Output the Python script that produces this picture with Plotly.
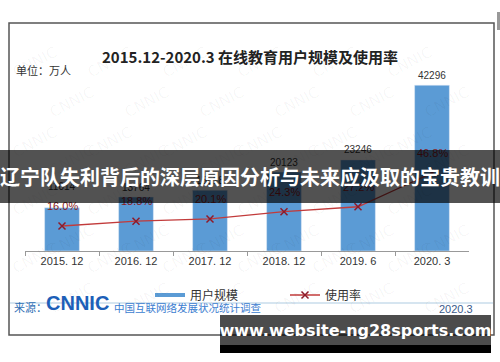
import plotly.graph_objects as go

categories = ["2015. 12", "2016. 12", "2017. 12", "2018. 12", "2019. 6", "2020. 3"]
users = [11014, 13764, 15518, 20123, 23246, 42296]
rates = [16.0, 18.8, 20.1, 24.3, 27.2, 46.8]

W, H = 500, 362
def px(x): return x / W
def py(y): return 1 - y / H

CJK = "Noto Sans CJK SC"
BAR = "#5B9BD5"
LINE = "#C23B3B"
MARK = "#8E1B2A"

# axis geometry (pixels)
BASE, TOP = 251, 55
YMAX = 50000
R0, R1 = 1.47, 115.4
def ypix_users(v): return BASE - v / YMAX * (BASE - TOP)
def ypix_rate(r): return BASE - (r - R0) / (R1 - R0) * (BASE - TOP)

fig = go.Figure()
fig.add_trace(go.Bar(
    x=categories, y=users, marker_color=BAR, width=0.47,
    showlegend=False, name="用户规模"))
# legend proxy for bars
fig.add_trace(go.Scatter(x=[None], y=[None], mode="lines",
                         line=dict(color=BAR, width=4), name="用户规模"))
fig.add_trace(go.Scatter(
    x=categories, y=rates, yaxis="y2", mode="lines+markers",
    line=dict(color=LINE, width=1.3),
    marker=dict(symbol="x-thin", size=7, line=dict(color=MARK, width=1.5)),
    name="使用率", cliponaxis=False))

# watermarks
for row in range(8):
    for col in range(7):
        x = 35 + col * 75 + (row % 2) * 37
        y = 40 + row * 40
        if x > 465:
            continue
        fig.add_annotation(x=px(x), y=py(y), xref="paper", yref="paper", text="CNNIC",
                           showarrow=False, textangle=-28, xanchor="center",
                           font=dict(size=15, color="rgba(0,0,0,0.04)", family="DejaVu Sans"))

# value labels
for c, v, r in zip(categories, users, rates):
    rate_lbl = ypix_rate(r) - 20
    bar_lbl = ypix_users(v) - 10
    shift = 10
    if abs(bar_lbl - rate_lbl) < 14:
        shift = ypix_users(v) - (rate_lbl - 20)
    fig.add_annotation(x=c, y=v, yref="y", text=str(v), showarrow=False, yshift=shift,
                       font=dict(size=10, color="#333", family="Liberation Sans"))
    fig.add_annotation(x=c, y=r, yref="y2", text=f"{r:.1f}%", showarrow=False,
                       yshift=20, font=dict(size=11, color="#8B1A1A", family="Liberation Sans"))

fig.add_annotation(x=px(250), y=py(44), xref="paper", yref="paper", xanchor="center",
                   text="<b>2015.12-2020.3 在线教育用户规模及使用率</b>", showarrow=False,
                   font=dict(size=15, color="#222", family=CJK))
fig.add_annotation(x=px(14), y=py(60), xref="paper", yref="paper", xanchor="left",
                   text="单位：万人", showarrow=False,
                   font=dict(size=11, color="#333", family=CJK))

# source row
fig.add_annotation(x=px(12), y=py(317), xref="paper", yref="paper", xanchor="left",
                   text="来源：", showarrow=False, font=dict(size=11, color="#2F6FB5", family=CJK))
fig.add_annotation(x=px(44), y=py(316), xref="paper", yref="paper", xanchor="left",
                   text="<b>CNNIC</b>", showarrow=False,
                   font=dict(size=20, color="#1D5FB8", family="Liberation Sans"))
fig.add_annotation(x=px(112), y=py(317), xref="paper", yref="paper", xanchor="left",
                   text="中国互联网络发展状况统计调查", showarrow=False,
                   font=dict(size=10.5, color="#3B7DD0", family=CJK))
fig.add_annotation(x=px(475), y=py(317), xref="paper", yref="paper", xanchor="right",
                   text="2020.3", showarrow=False,
                   font=dict(size=11, color="#3A5A8A", family="Liberation Sans"))

# overlay banners (annotations so they sit above other texts)
fig.add_annotation(x=0, y=py(150), xref="paper", yref="paper", xanchor="left", yanchor="top",
                   width=500, height=53, borderpad=0, borderwidth=0, valign="middle",
                   bgcolor="rgba(0,0,0,0.68)",
                   text="<b>辽宁队失利背后的深层原因分析与未来应汲取的宝贵教训</b>", showarrow=False,
                   font=dict(size=20, color="white", family=CJK))
fig.add_annotation(x=px(220), y=py(315), xref="paper", yref="paper", xanchor="left", yanchor="top",
                   width=271, height=30, borderpad=0, borderwidth=0, valign="middle",
                   bgcolor="rgba(0,0,0,0.7)",
                   text="<b>www.website-ng28sports.com</b>", showarrow=False,
                   font=dict(size=16, color="white", family="DejaVu Sans"))
fig.add_annotation(x=px(220), y=py(345), xref="paper", yref="paper", xanchor="left", yanchor="top",
                   width=271, height=8, borderpad=0, borderwidth=0,
                   bgcolor="#000", text=" ", showarrow=False, font=dict(size=4))

shapes = [
    dict(type="rect", xref="paper", yref="paper", x0=px(9), x1=px(494), y0=py(23), y1=py(335),
         line=dict(color="#555", width=1.5), layer="below"),
    dict(type="line", xref="paper", yref="paper", x0=px(10), x1=px(493), y0=py(303), y1=py(303),
         line=dict(color="#C9DCEB", width=1.5), layer="below"),
    dict(type="rect", xref="paper", yref="paper", x0=px(497), x1=px(500), y0=py(12), y1=py(30),
         line=dict(width=0), fillcolor="#999"),
]

fig.update_layout(
    width=W, height=H, margin=dict(l=0, r=0, t=0, b=0),
    paper_bgcolor="white", plot_bgcolor="rgba(0,0,0,0)",
    shapes=shapes,
    xaxis=dict(domain=[px(25), px(469)], type="category", showline=True, linecolor="#999",
               linewidth=1, ticks="outside", tickson="boundaries", ticklen=4, tickcolor="#999",
               tickfont=dict(size=11, color="#333", family="Liberation Sans"), showgrid=False),
    yaxis=dict(domain=[py(BASE), py(TOP)], range=[0, YMAX], visible=False, showgrid=False),
    yaxis2=dict(domain=[py(BASE), py(TOP)], range=[R0, R1], overlaying="y", visible=False,
                showgrid=False),
    legend=dict(orientation="h", x=px(150), y=py(295), xanchor="left", yanchor="middle",
                font=dict(size=12, color="#333", family=CJK), entrywidth=90,
                bgcolor="rgba(0,0,0,0)"),
)
fig.write_html("out.html")
